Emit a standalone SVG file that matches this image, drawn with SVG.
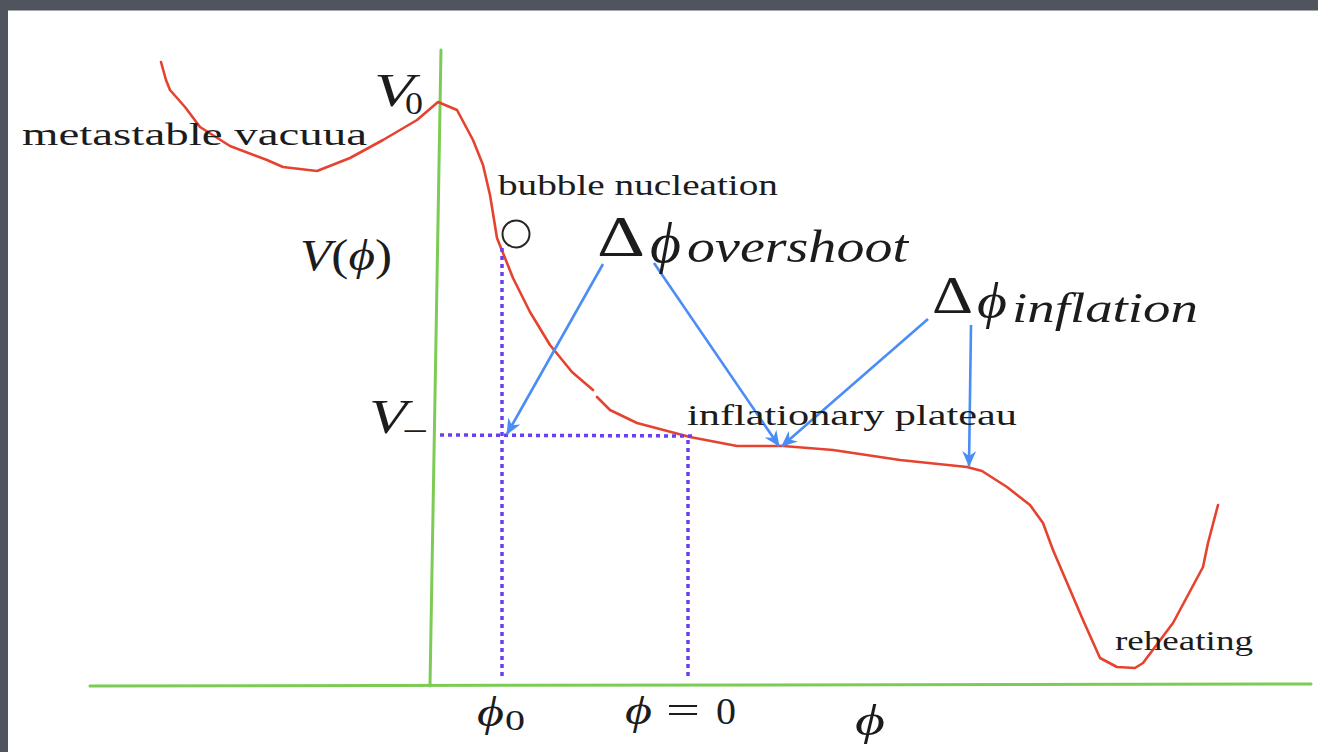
<svg xmlns="http://www.w3.org/2000/svg" width="1318" height="752" viewBox="0 0 1318 752">
<style>
.t{font-family:"Liberation Serif","Times New Roman",serif;fill:#1c1c1c}
.i{font-style:italic}
.g{font-family:"Liberation Serif","DejaVu Serif",serif}
.axis{stroke:#7ccb55;stroke-width:3;fill:none;stroke-linecap:round}
.curve{stroke:#e5432f;stroke-width:2.6;fill:none;stroke-linejoin:round;stroke-linecap:round}
.dot{stroke:#6b3ff0;stroke-width:3.5;fill:none;stroke-dasharray:4 4}
.arr{stroke:#4a8ef5;stroke-width:2.6;fill:none;marker-end:url(#ah)}
</style>
<defs>
<marker id="ah" viewBox="0 0 16 14" refX="15" refY="7" markerWidth="16" markerHeight="14" markerUnits="userSpaceOnUse" orient="auto">
<path d="M0,0 L16,7 L0,14 L5,7 Z" fill="#4a8ef5"/>
</marker>
</defs>
<rect x="0" y="0" width="1318" height="752" fill="#50545c"/>
<rect x="8" y="10" width="1310" height="742" fill="#ffffff"/>
<line x1="8" y1="10.5" x2="1318" y2="10.5" stroke="#a4a8ae" stroke-width="1"/>

<g id="axes">
<line class="axis" x1="441" y1="50" x2="430" y2="686"/>
<line class="axis" x1="90" y1="686" x2="1311" y2="684"/>
</g>

<g id="potential">
<path class="curve" d="M161,62 L166,80 L170,90 L185,107 L200,127 L230,146 L267,160 L283,167 L317,171 L350,158 L383,140 L417,120 L438,102 L457,110 L473,140 L483,165 L490,195 L497,238 L513,278 L530,312 L550,345 L572,372 L593,390"/>
<path class="curve" d="M597,397 L610,410 L637,423 L690,437 L737,446 L783,446 L833,450 L900,460 L967,467 L982,471 L1007,487 L1030,505 L1043,523 L1053,550 L1083,620 L1100,658 L1117,667 L1135,668 L1143,663 L1173,623 L1203,567 L1208,543 L1218,505"/>
</g>

<g id="guides">
<line class="dot" x1="502" y1="248" x2="502" y2="680"/>
<line class="dot" x1="440" y1="435" x2="692" y2="436"/>
<line class="dot" x1="688" y1="440" x2="688" y2="680"/>
</g>

<g id="bubble">
<circle cx="516" cy="234" r="13.5" fill="none" stroke="#262626" stroke-width="2"/>
</g>

<g id="connectors">
<line class="arr" x1="603" y1="264" x2="507" y2="434"/>
<line class="arr" x1="654" y1="263" x2="779" y2="446"/>
<line class="arr" x1="928" y1="319" x2="782" y2="446"/>
<line class="arr" x1="971" y1="325" x2="969" y2="466"/>
</g>

<g id="label-metastable">
<text class="t" x="22" y="145" font-size="31" textLength="345" lengthAdjust="spacingAndGlyphs">metastable vacuua</text>
</g>
<g id="label-V0">
<text class="t i" x="374" y="106" font-size="46" textLength="40" lengthAdjust="spacingAndGlyphs">V</text>
<text class="t" x="405" y="114" font-size="31" textLength="18" lengthAdjust="spacingAndGlyphs">0</text>
</g>
<g id="label-bubble">
<text class="t" x="498" y="195" font-size="30" textLength="280" lengthAdjust="spacingAndGlyphs">bubble nucleation</text>
</g>
<g id="label-Vphi">
<text class="t" x="300" y="270" font-size="44" textLength="92" lengthAdjust="spacingAndGlyphs"><tspan class="i">V</tspan>(<tspan class="i g">ϕ</tspan>)</text>
</g>
<g id="label-Vminus">
<text class="t i" x="369" y="433" font-size="48" textLength="38" lengthAdjust="spacingAndGlyphs">V</text>
<text class="t" x="402" y="443" font-size="36" textLength="26" lengthAdjust="spacingAndGlyphs">−</text>
</g>
<g id="label-overshoot">
<text class="t" x="597" y="256" font-size="58" textLength="48" lengthAdjust="spacingAndGlyphs">Δ</text>
<text class="t i g" x="650" y="262" font-size="56" textLength="31" lengthAdjust="spacingAndGlyphs">ϕ</text>
<text class="t i" x="687" y="262" font-size="46" textLength="221" lengthAdjust="spacingAndGlyphs">overshoot</text>
</g>
<g id="label-inflation">
<text class="t" x="932" y="313" font-size="52" textLength="41" lengthAdjust="spacingAndGlyphs">Δ</text>
<text class="t i g" x="977" y="318" font-size="50" textLength="30" lengthAdjust="spacingAndGlyphs">ϕ</text>
<text class="t i" x="1012" y="322" font-size="42" textLength="186" lengthAdjust="spacingAndGlyphs">inflation</text>
</g>
<g id="label-plateau">
<text class="t" x="687" y="425" font-size="30" textLength="330" lengthAdjust="spacingAndGlyphs">inflationary plateau</text>
</g>
<g id="label-reheating">
<text class="t" x="1115" y="650" font-size="27" textLength="138" lengthAdjust="spacingAndGlyphs">reheating</text>
</g>
<g id="label-phi0">
<text class="t i g" x="477" y="726" font-size="42" textLength="27" lengthAdjust="spacingAndGlyphs">ϕ</text>
<text class="t" x="505" y="730" font-size="30" textLength="20" lengthAdjust="spacingAndGlyphs">0</text>
</g>
<g id="label-phi-eq-0">
<text class="t i g" x="625" y="724" font-size="40" textLength="27" lengthAdjust="spacingAndGlyphs">ϕ</text>
<text class="t" x="666" y="724" font-size="40" textLength="34" lengthAdjust="spacingAndGlyphs">=</text>
<text class="t" x="716" y="724" font-size="38" textLength="20" lengthAdjust="spacingAndGlyphs">0</text>
</g>
<g id="label-phi">
<text class="t i g" x="855" y="735" font-size="44" textLength="30" lengthAdjust="spacingAndGlyphs">ϕ</text>
</g>
</svg>
